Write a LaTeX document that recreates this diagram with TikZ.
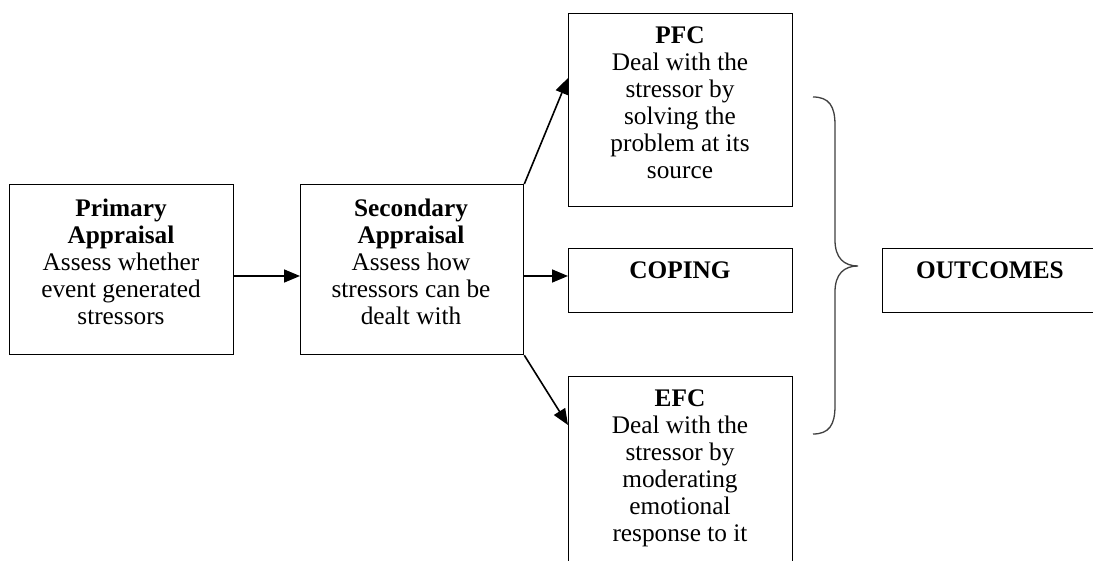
\documentclass[tikz,border=0pt]{standalone}
\usepackage{fontspec}
\setmainfont{Liberation Serif}
\usetikzlibrary{arrows.meta}
\begin{document}
\begin{tikzpicture}[x=1pt,y=-1pt,
  box/.style={draw, line width=1.3pt, anchor=north west, inner sep=0pt},
  txt/.style={anchor=north, align=center, inner sep=0pt, font=\fontsize{25.3}{27}\selectfont},
  arr/.style={line width=1.6pt, -{Triangle[length=16pt,width=13pt]}},
  brace/.style={line width=1.3pt, draw=black!75}]
\clip (0,0) rectangle (1093,561);
\fill[white] (0,0) rectangle (1093,561);
% boxes
\node[box, minimum width=224pt, minimum height=170pt] (prim) at (9,184) {};
\node[box, minimum width=223pt, minimum height=170pt] (sec) at (300,184) {};
\node[box, minimum width=224pt, minimum height=193pt] (pfc) at (568,13) {};
\node[box, minimum width=224pt, minimum height=64pt] (cop) at (568,248) {};
\node[box, minimum width=224pt, minimum height=200pt] (efc) at (568,376) {};
\node[box, minimum width=230pt, minimum height=64pt] (out) at (882,248) {};
% texts
\node[txt] (primt) at (121,199) {\textbf{Primary}\\\textbf{Appraisal}\\Assess whether\\event generated\\stressors};
\node[txt] (sect) at (411,199) {\textbf{Secondary}\\\textbf{Appraisal}\\Assess how\\stressors can be\\dealt with};
\node[txt] (pfct) at (680,27) {\textbf{PFC}\\Deal with the\\stressor by\\solving the\\problem at its\\source};
\node[txt] (copt) at (680,262) {\textbf{COPING}};
\node[txt] (efct) at (680,390) {\textbf{EFC}\\Deal with the\\stressor by\\moderating\\emotional\\response to it};
\node[txt] (outt) at (990,262) {\textbf{OUTCOMES}};
% arrows
\coordinate (ymid) at (0,276);
\coordinate (ytop) at (0,78);
\coordinate (ybot) at (0,425);
\draw[arr] (prim.east |- ymid) -- (sec.west |- ymid);
\draw[arr] (sec.east |- ymid) -- (cop.west |- ymid);
\draw[arr] (sec.north east) -- (pfc.west |- ytop);
\draw[arr] (sec.south east) -- (efc.west |- ybot);
% brace
\draw[brace] (813,97) .. controls (829,97) and (835,106) .. (835,125) -- (835,240)
  .. controls (835,258) and (844,266) .. (858,266)
  .. controls (844,266) and (835,274) .. (835,292) -- (835,406)
  .. controls (835,425) and (829,434) .. (813,434);
\end{tikzpicture}
\end{document}
